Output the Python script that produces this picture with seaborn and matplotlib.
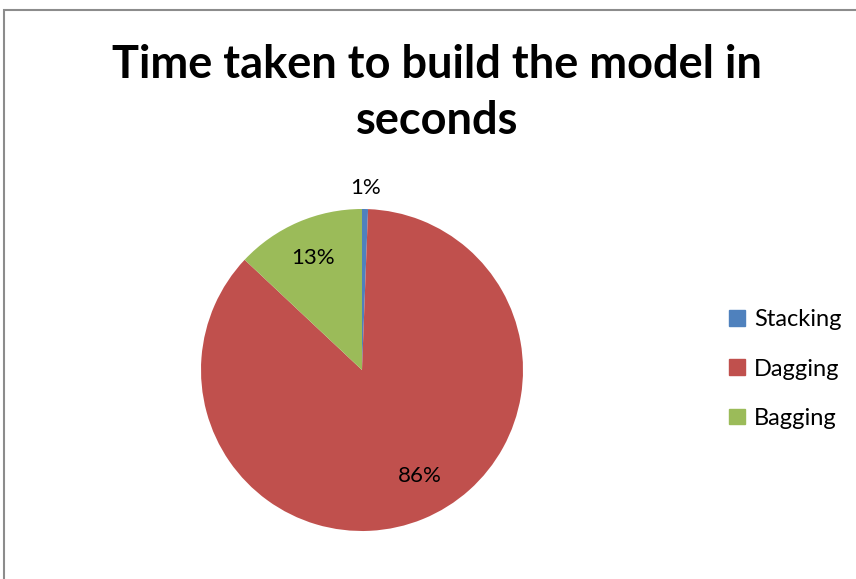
import matplotlib
matplotlib.use('Agg')

import matplotlib.pyplot as plt
import matplotlib.patches as mpatches
import seaborn as sns

methods = ["Stacking", "Dagging", "Bagging"]
share = [0.6, 86.4, 13.0]
colors = ["#4F81BD", "#C0504D", "#9BBB59"]

sns.set_theme(style="white")
plt.rcParams['font.family'] = ['Lato', 'DejaVu Sans']
plt.rcParams['text.color'] = 'black'

fig = plt.figure(figsize=(8.56, 5.79), dpi=100)

# chart frame (cut off on right / bottom like the reference)
fig.patches.append(mpatches.Rectangle(
    (4 / 856, -0.1), 1.1, (579 - 10) / 579 + 0.1,
    transform=fig.transFigure, fill=False,
    edgecolor="#8c8c8c", linewidth=1.5
))

fig.text(
    437 / 856, 1 - 93 / 579,
    "Time taken to build the model in\nseconds",
    ha="center", va="center",
    fontsize=32.5, fontweight="bold",
    linespacing=1.42, color="black"
)

ax = fig.add_axes([(362 - 161) / 856, (579 - 370 - 161) / 579, 322 / 856, 322 / 579])

wedges, texts, autotexts = ax.pie(
    share,
    colors=sns.color_palette(colors),
    startangle=90,
    counterclock=False,
    autopct='%1.0f%%',
    pctdistance=0.76,
    textprops={"fontsize": 16, "color": "black"},
    wedgeprops={"linewidth": 0}
)

# small slice label sits outside the pie
autotexts[0].set_position((0.02, 1.13))
autotexts[1].set_position((0.36, -0.66))

ax.set_xlim(-1, 1)
ax.set_ylim(-1, 1)
ax.set_aspect("equal")
ax.axis("off")

handles = [mpatches.Patch(color=c, label=m) for c, m in zip(colors, methods)]
fig.legend(
    handles=handles,
    loc="center left",
    bbox_to_anchor=(708 / 856, 1 - 369 / 579),
    frameon=False,
    fontsize=17,
    handlelength=0.65,
    handleheight=0.65,
    handletextpad=0.4,
    labelspacing=1.2
)

plt.savefig("out.png", dpi=100)
plt.close()
